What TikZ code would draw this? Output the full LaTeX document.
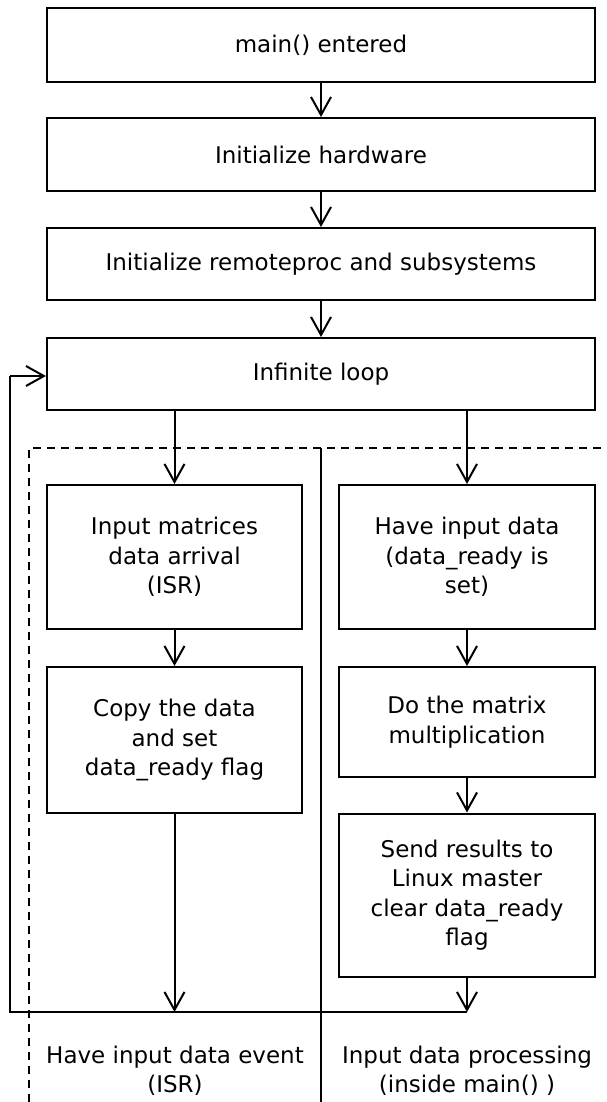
\documentclass[tikz,border=0pt]{standalone}
\usepackage{fontspec}
\setmainfont{DejaVu Sans}
\usetikzlibrary{arrows.meta}
\begin{document}
\begin{tikzpicture}[x=1pt,y=-1pt,
  every node/.style={font=\fontsize{23}{29.5}\selectfont},
  box/.style={draw,line width=2pt,inner sep=0pt,align=center},
  arr/.style={line width=2pt,-{Straight Barb[length=18pt,width=20pt,line width=2pt]}},
  ln/.style={line width=2pt},
  lbl/.style={align=center,inner sep=0pt}]
\useasboundingbox (0,0) rectangle (607,1102);
\node[box,minimum width=548pt,minimum height=74pt] (b1) at (321,45) {\raisebox{-1.5pt}{main() entered}};
\node[box,minimum width=548pt,minimum height=73pt] (b2) at (321,154.5) {\raisebox{-1.5pt}{Initialize hardware}};
\node[box,minimum width=548pt,minimum height=72pt] (b3) at (321,264) {\raisebox{-1.5pt}{Initialize remoteproc and subsystems}};
\node[box,minimum width=548pt,minimum height=72pt] (b4) at (321,374) {\raisebox{-1.5pt}{Infinite loop}};
\node[box,minimum width=255pt,minimum height=144pt] (l1) at (174.5,557) {Input matrices\\data arrival\\(ISR)};
\node[box,minimum width=255pt,minimum height=146pt] (l2) at (174.5,740) {Copy the data\\and set\\data\_ready flag};
\node[box,minimum width=256pt,minimum height=144pt] (r1) at (467,557) {Have input data\\(data\_ready is\\set)};
\node[box,minimum width=256pt,minimum height=110pt] (r2) at (467,722) {Do the matrix\\multiplication};
\node[box,minimum width=256pt,minimum height=163pt] (r3) at (467,895) {Send results to\\Linux master\\clear data\_ready\\flag};
\coordinate (jl) at (174.5,1012);
\coordinate (jr) at (467,1012);
\coordinate (c1) at (10,1012);
\coordinate (c2) at (10,376);
\coordinate (d1) at (29,1102);
\coordinate (d2) at (29,448);
\coordinate (d3) at (607,448);
\coordinate (s1) at (321,448);
\coordinate (s2) at (321,1102);
\draw[arr] (b1) -- (b2);
\draw[arr] (b2) -- (b3);
\draw[arr] (b3) -- (b4);
\draw[arr] (b4.south -| l1) -- (l1);
\draw[arr] (b4.south -| r1) -- (r1);
\draw[arr] (l1) -- (l2);
\draw[arr] (r1) -- (r2);
\draw[arr] (r2) -- (r3);
\draw[arr] (l2) -- (jl);
\draw[arr] (r3) -- (jr);
\draw[ln] (jr) -- (c1) -- (c2);
\draw[arr] (c2) -- (c2 -| b4.west);
\draw[line width=1.5pt,dash pattern=on 8pt off 6pt] (d1) -- (d2) -- (d3);
\draw[ln] (s1) -- (s2);
\node[lbl] (t1) at (175,1071) {Have input data event\\(ISR)};
\node[lbl] (t2) at (467,1071) {Input data processing\\(inside main() )};
\end{tikzpicture}
\end{document}
